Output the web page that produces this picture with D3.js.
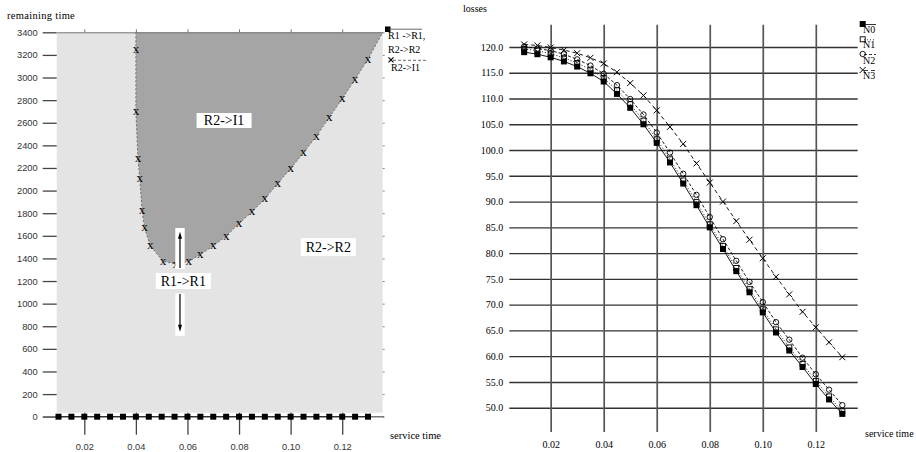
<!DOCTYPE html>
<html>
<head>
<meta charset="utf-8">
<script src="https://cdn.jsdelivr.net/npm/d3@7"></script>
<style>
  body { margin: 0; background: #fff; }
  svg { display: block; }
</style>
</head>
<body>
<div id="chart"></div>
<script>
//// data
// left chart: boundary R2->I1 (x markers)
const boundaryX = [0.04, 0.04, 0.0408, 0.0415, 0.0424, 0.0433, 0.0456, 0.0505, 0.0555, 0.0605, 0.065, 0.07,
    0.075, 0.08, 0.085, 0.09, 0.095, 0.10, 0.105, 0.11, 0.115, 0.12, 0.125, 0.13]
const boundaryY = [3245, 2700, 2285, 2108, 1821, 1674, 1512, 1376, 1350, 1373, 1435, 1512,
    1597, 1710, 1812, 1927, 2064, 2196, 2335, 2482, 2648, 2812, 2984, 3164]
// left chart: R1->R1, R2->R2 squares along zero
const serviceTime = [0.01, 0.015, 0.02, 0.025, 0.03, 0.035, 0.04, 0.045, 0.05, 0.055, 0.06, 0.065, 0.07,
    0.075, 0.08, 0.085, 0.09, 0.095, 0.10, 0.105, 0.11, 0.115, 0.12, 0.125, 0.13]
const zeroLine = [0, 0, 0, 0, 0, 0, 0, 0, 0, 0, 0, 0, 0, 0, 0, 0, 0, 0, 0, 0, 0, 0, 0, 0, 0]
const leftXTicks = [0.02, 0.04, 0.06, 0.08, 0.10, 0.12]
const leftYTicks = [0, 200, 400, 600, 800, 1000, 1200, 1400, 1600, 1800, 2000, 2200, 2400, 2600, 2800, 3000, 3200, 3400]
const leftXDomain = [0.0093, 0.1357]
const leftYDomain = [0, 3400]
const lightBottom = 35
const regionLabels = [
    {text: "R2->I1", x: 0.0742, y: 2620, w: 55, h: 15},
    {text: "R2->R2", x: 0.1146, y: 1500, w: 55, h: 18},
    {text: "R1->R1", x: 0.0584, y: 1200, w: 55, h: 16}
]
const arrows = [
    {x: 0.0571, from: 1315, to: 1636, boxFrom: 1306, boxTo: 1669},
    {x: 0.0571, from: 1085, to: 752, boxFrom: 1091, boxTo: 716}
]

// right chart: losses
const N0 = [119.0, 118.6, 118.0, 117.2, 116.2, 114.9, 113.3, 110.9, 108.2, 105.0, 101.4, 97.6, 93.5,
    89.3, 85.0, 80.8, 76.5, 72.4, 68.5, 64.6, 61.1, 57.9, 54.6, 51.6, 48.8]
const N1 = [119.6, 119.3, 118.7, 117.9, 116.9, 115.6, 114.0, 111.6, 108.9, 105.7, 102.1, 98.2, 94.1,
    89.9, 85.6, 81.4, 77.1, 73.0, 69.1, 65.2, 61.7, 58.5, 55.2, 52.2, 49.3]
const N2 = [120.1, 119.7, 119.3, 118.6, 117.6, 116.4, 114.8, 112.6, 109.9, 106.9, 103.4, 99.5, 95.4,
    91.3, 87.0, 82.7, 78.5, 74.4, 70.5, 66.6, 63.2, 59.7, 56.5, 53.5, 50.5]
const N3 = [120.5, 120.3, 119.9, 119.4, 118.8, 117.9, 116.8, 115.1, 113.0, 110.6, 107.7, 104.5, 101.2,
    97.4, 93.7, 90.0, 86.2, 82.6, 79.0, 75.4, 72.0, 68.6, 65.6, 62.7, 59.8]
const seriesNames = ["N0", "N1", "N2", "N3"]
const rightXTicks = [0.02, 0.04, 0.06, 0.08, 0.10, 0.12]
const rightYTicks = [50, 55, 60, 65, 70, 75, 80, 85, 90, 95, 100, 105, 110, 115, 120]
const rightXDomain = [0.0044, 0.1358]
const rightYDomain = [50, 120]
const gridYExtent = [45.3, 124.3]

const width = 916
const height = 452
const svg = d3.select("#chart").append("svg").attr("width", width).attr("height", height)
const serif = "'Liberation Serif', 'Times New Roman', serif"
const sans = "'Liberation Sans', Arial, sans-serif"

//////// LEFT CHART
let xL = d3.scaleLinear().domain(leftXDomain).range([56.7, 382.7])
let yL = d3.scaleLinear().domain(leftYDomain).range([416.7, 32.3])
let left = svg.append("g")

// light region
left.append("rect")
    .attr("x", xL(leftXDomain[0])).attr("y", yL(leftYDomain[1]))
    .attr("width", xL(leftXDomain[1]) - xL(leftXDomain[0]))
    .attr("height", yL(lightBottom) - yL(leftYDomain[1]))
    .attr("fill", "#e4e4e4")

// dark region R2->I1
let poly = [[0.04, 3400]]
for (let i = 0; i < boundaryX.length; i++) poly.push([boundaryX[i], boundaryY[i]])
poly.push([leftXDomain[1], 3400])
let polyLine = d3.line().x(d => xL(d[0])).y(d => yL(d[1]))
left.append("path").attr("d", polyLine(poly) + "Z").attr("fill", "#a5a5a5").attr("stroke", "none")
left.append("path").attr("d", polyLine(poly))
    .attr("fill", "none").attr("stroke", "#555").attr("stroke-width", 0.8).attr("stroke-dasharray", "2,2")

// axes
let yAxisL = d3.axisLeft(yL).tickValues(leftYTicks).tickSize(14).tickPadding(5).tickFormat(d3.format("d"))
left.append("g").attr("transform", `translate(${xL(leftXDomain[0])},0)`).call(yAxisL)
    .call(g => g.select(".domain").remove())
    .call(g => g.selectAll("line").attr("stroke", "#444").attr("stroke-width", 1.3))
    .call(g => g.selectAll("text").attr("font-family", sans).attr("font-size", 9.3).attr("fill", "#333"))
let yAxisR = d3.axisRight(yL).tickValues(leftYTicks).tickSize(2).tickFormat("")
left.append("g").attr("transform", `translate(${xL(leftXDomain[1])},0)`).call(yAxisR)
    .call(g => g.select(".domain").remove())
    .call(g => g.selectAll("line").attr("stroke", "#888"))
let xAxisTop = d3.axisTop(xL).tickValues(leftXTicks).tickSize(3).tickSizeOuter(0).tickFormat("")
left.append("g").attr("transform", `translate(0,${yL(3400)})`).call(xAxisTop)
    .call(g => g.select(".domain").attr("stroke", "#777"))
    .call(g => g.selectAll("line").attr("stroke", "#777"))
let xAxisL = d3.axisBottom(xL).tickValues(leftXTicks).tickSize(22).tickPadding(9).tickFormat(d3.format(".2f"))
left.append("g").attr("transform", `translate(0,${yL(0) - 4})`).call(xAxisL)
    .call(g => g.select(".domain").remove())
    .call(g => g.selectAll("line").attr("stroke", "#444").attr("stroke-width", 1.3))
    .call(g => g.selectAll("text").attr("font-family", sans).attr("font-size", 9.3).attr("fill", "#333"))
// zero axis line
left.append("line").attr("x1", 43).attr("x2", 384).attr("y1", yL(0)).attr("y2", yL(0))
    .attr("stroke", "#777").attr("stroke-width", 1.6)

// squares along zero
let zeroData = serviceTime.map((d, i) => [d, zeroLine[i]])
left.append("path").datum(zeroData).attr("fill", "none").attr("stroke", "#222").attr("stroke-width", 1)
    .attr("d", d3.line().x(d => xL(d[0])).y(d => yL(d[1])))
left.selectAll(".sq").data(zeroData).join("rect")
    .attr("x", d => xL(d[0]) - 3).attr("y", d => yL(d[1]) - 3)
    .attr("width", 6).attr("height", 6).attr("fill", "#000")

// x markers on boundary
left.selectAll(".xm").data(boundaryX).join("text")
    .attr("x", d => xL(d)).attr("y", (d, i) => yL(boundaryY[i]))
    .attr("dy", "0.28em").attr("text-anchor", "middle")
    .attr("font-family", serif).attr("font-size", 13).attr("fill", "#000")
    .text("x")

// region labels
for (let lab of regionLabels) {
    left.append("rect").attr("x", xL(lab.x) - lab.w / 2).attr("y", yL(lab.y) - lab.h / 2)
        .attr("width", lab.w).attr("height", lab.h).attr("fill", "#fff")
    left.append("text").attr("x", xL(lab.x)).attr("y", yL(lab.y)).attr("dy", "0.35em")
        .attr("text-anchor", "middle").attr("font-family", serif).attr("font-size", 14).text(lab.text)
}
// arrows
for (let a of arrows) {
    left.append("rect").attr("x", xL(a.x) - 4.7).attr("y", Math.min(yL(a.boxFrom), yL(a.boxTo)))
        .attr("width", 9.4).attr("height", Math.abs(yL(a.boxFrom) - yL(a.boxTo))).attr("fill", "#fff")
    let dir = yL(a.to) < yL(a.from) ? 1 : -1
    left.append("line").attr("x1", xL(a.x)).attr("x2", xL(a.x))
        .attr("y1", yL(a.from)).attr("y2", yL(a.to) + dir * 4)
        .attr("stroke", "#000").attr("stroke-width", 1.2)
    let tx = xL(a.x), ty = yL(a.to)
    left.append("path").attr("d", `M${tx},${ty} L${tx - 2},${ty + dir * 7} L${tx + 2},${ty + dir * 7} Z`).attr("fill", "#000")
}

// titles
left.append("text").attr("x", 7).attr("y", 19).attr("font-family", serif).attr("font-size", 10.5)
    .attr("letter-spacing", 0.3).text("remaining time")
left.append("text").attr("x", 390).attr("y", 439).attr("font-family", serif).attr("font-size", 10.5)
    .text("service time")

// left legend
left.append("rect").attr("x", 385).attr("y", 26.5).attr("width", 5.5).attr("height", 5.5).attr("fill", "#000")
left.append("line").attr("x1", 388).attr("x2", 422).attr("y1", 29.2).attr("y2", 29.2).attr("stroke", "#444").attr("stroke-width", 0.8)
left.append("text").attr("x", 388).attr("y", 38.5).attr("font-family", serif).attr("font-size", 10).text("R1 ->R1,")
left.append("text").attr("x", 388).attr("y", 52.5).attr("font-family", serif).attr("font-size", 10).text("R2->R2")
left.append("path").attr("d", "M388.5,57.3L393.5,62.3M388.5,62.3L393.5,57.3").attr("stroke", "#000").attr("stroke-width", 1.2)
left.append("line").attr("x1", 393).attr("x2", 426).attr("y1", 60.3).attr("y2", 60.3)
    .attr("stroke", "#444").attr("stroke-width", 0.8).attr("stroke-dasharray", "3,2")
left.append("text").attr("x", 391).attr("y", 71).attr("font-family", serif).attr("font-size", 10).text("R2->I1")

//////// RIGHT CHART
let xR = d3.scaleLinear().domain(rightXDomain).range([509.3, 857.7])
let yR = d3.scaleLinear().domain(rightYDomain).range([407.7, 47])
let right = svg.append("g")

// horizontal grid + labels
let yAxisRight = d3.axisLeft(yR).tickValues(rightYTicks).tickSize(-(xR(rightXDomain[1]) - xR(rightXDomain[0])))
    .tickPadding(6).tickFormat(d3.format(".1f"))
right.append("g").attr("transform", `translate(${xR(rightXDomain[0])},0)`).call(yAxisRight)
    .call(g => g.select(".domain").remove())
    .call(g => g.selectAll("line").attr("stroke", "#333").attr("stroke-width", 1.4))
    .call(g => g.selectAll("text").attr("font-family", serif).attr("font-size", 10).attr("fill", "#000"))
// vertical grid + labels
let xAxisRight = d3.axisBottom(xR).tickValues(rightXTicks).tickSize(yR(gridYExtent[0]) - yR(gridYExtent[1]))
    .tickPadding(9).tickFormat(d3.format(".2f"))
right.append("g").attr("transform", `translate(0,${yR(gridYExtent[1])})`).call(xAxisRight)
    .call(g => g.select(".domain").remove())
    .call(g => g.selectAll("line").attr("stroke", "#555").attr("stroke-width", 1.7))
    .call(g => g.selectAll("text").attr("font-family", serif).attr("font-size", 10).attr("fill", "#000"))

let seriesData = [N0, N1, N2, N3]
let dashes = [null, "1,2", "3,2", "4,3"]
let lineR = d3.line().x((d, i) => xR(serviceTime[i])).y(d => yR(d))
for (let k = seriesData.length - 1; k >= 0; k--) {
    let p = right.append("path").datum(seriesData[k])
        .attr("fill", "none").attr("stroke", "#000").attr("stroke-width", 0.9).attr("d", lineR)
    if (dashes[k]) p.attr("stroke-dasharray", dashes[k])
}

function marker(g, k, cx, cy) {
    if (k === 0) {
        g.append("rect").attr("x", cx - 3).attr("y", cy - 3).attr("width", 6).attr("height", 6).attr("fill", "#000")
    } else if (k === 1) {
        g.append("rect").attr("x", cx - 2.5).attr("y", cy - 2.5).attr("width", 5).attr("height", 5)
            .attr("fill", "none").attr("stroke", "#000").attr("stroke-width", 0.9)
    } else if (k === 2) {
        g.append("circle").attr("cx", cx).attr("cy", cy).attr("r", 2.7)
            .attr("fill", "none").attr("stroke", "#000").attr("stroke-width", 0.9)
    } else {
        g.append("path").attr("d", `M${cx - 3},${cy - 3}L${cx + 3},${cy + 3}M${cx - 3},${cy + 3}L${cx + 3},${cy - 3}`)
            .attr("stroke", "#000").attr("stroke-width", 1)
    }
}
for (let k = seriesData.length - 1; k >= 0; k--) {
    let g = right.append("g")
    seriesData[k].forEach((v, i) => marker(g, k, xR(serviceTime[i]), yR(v)))
}

// right legend
let legendY = [24, 39.3, 54, 70]
let legendTextY = [33, 48, 63.5, 78.5]
for (let k = 0; k < seriesNames.length; k++) {
    let ln = right.append("line").attr("x1", 864).attr("x2", 876).attr("y1", legendY[k] + 0.5).attr("y2", legendY[k] + 0.5)
        .attr("stroke", "#000").attr("stroke-width", 0.8)
    if (dashes[k]) ln.attr("stroke-dasharray", dashes[k])
    marker(right, k, 862.7, legendY[k])
    right.append("text").attr("x", 863).attr("y", legendTextY[k]).attr("font-family", serif).attr("font-size", 10)
        .text(seriesNames[k])
}

right.append("text").attr("x", 463).attr("y", 12).attr("font-family", serif).attr("font-size", 10).text("losses")
right.append("text").attr("x", 865).attr("y", 437).attr("font-family", serif).attr("font-size", 10).text("service time")
</script>
</body>
</html>
